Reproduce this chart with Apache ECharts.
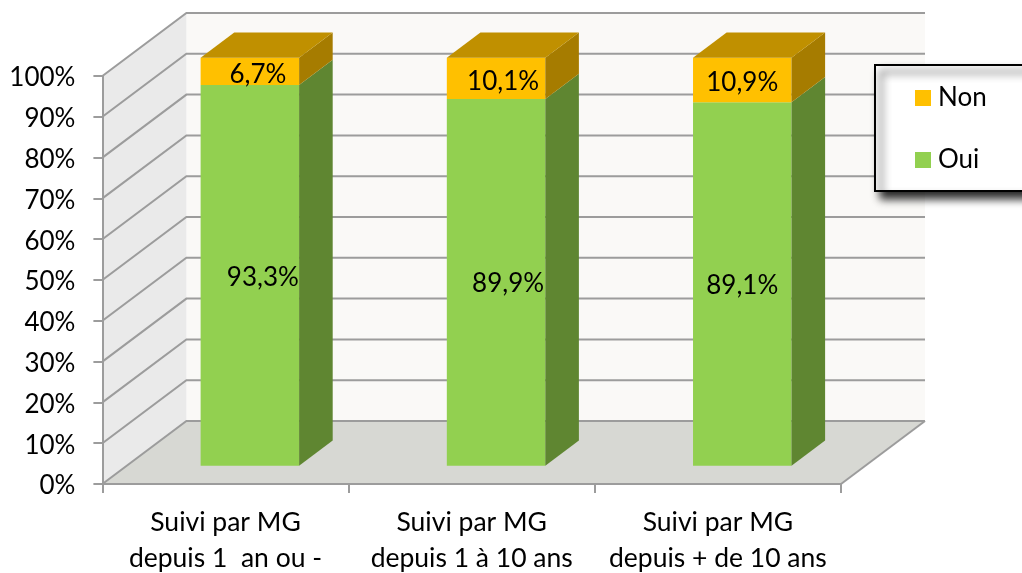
<!DOCTYPE html>
<html>
<head>
<meta charset="utf-8">
<style>
  html, body { margin: 0; padding: 0; background: #fff; }
  #chart { width: 1022px; height: 573px; }
</style>
</head>
<body>
<div id="chart"></div>
<script src="https://cdn.jsdelivr.net/npm/echarts@6/dist/echarts.min.js"></script>
<script>
  const categories = ['Suivi par MG\ndepuis 1  an ou -', 'Suivi par MG\ndepuis 1 à 10 ans', 'Suivi par MG\ndepuis + de 10 ans']
  const oui = [93.3, 89.9, 89.1]
  const non = [6.7, 10.1, 10.9]
  const yTicks = [0, 10, 20, 30, 40, 50, 60, 70, 80, 90, 100]

  // fausse 3D : décalage du fond du graphique par rapport à l'axe
  const DEPTH_X = 84
  const DEPTH_Y = 63
  const BAR_FRONT = 0.29
  const BAR_BACK = 0.69
  const BAR_WIDTH = 0.4
  const FONT = 'Lato'

  // étiquettes déplacées à la main dans l'original (px)
  const ouiShift = [[13, 2], [12, 1], [0, 2]]
  const nonShift = [[8, 3], [7, 3], [0, 3]]

  function project (p, d) {
    return [p[0] + DEPTH_X * d, p[1] - DEPTH_Y * d]
  }

  function poly (points, fill) {
    return { type: 'polygon', shape: { points: points }, style: { fill: fill } }
  }

  function renderWalls (params) {
    const g = params.coordSys
    const fl = [g.x, g.y + g.height]
    const fr = [g.x + g.width, g.y + g.height]
    const tl = [g.x, g.y]
    const tr = [g.x + g.width, g.y]
    return {
      type: 'group',
      children: [
        poly([project(fl, 1), project(fr, 1), project(tr, 1), project(tl, 1)], '#faf9f7'),
        poly([fl, project(fl, 1), project(tl, 1), tl], '#eaeaea'),
        poly([fl, fr, project(fr, 1), project(fl, 1)], '#d7d8d3')
      ]
    }
  }

  function renderGrid (params, api) {
    const g = params.coordSys
    const y = api.coord([0, api.value(1)])[1]
    const a = [g.x, y]
    const b = project(a, 1)
    const c = project([g.x + g.width, y], 1)
    return {
      type: 'polyline',
      shape: { points: [a, b, c] },
      style: { stroke: '#9c9c9c', lineWidth: 2, fill: null }
    }
  }

  function renderFloorEdge (params) {
    const g = params.coordSys
    const fr = [g.x + g.width, g.y + g.height]
    return {
      type: 'line',
      shape: { x1: fr[0], y1: fr[1], x2: fr[0] + DEPTH_X, y2: fr[1] - DEPTH_Y },
      style: { stroke: '#9c9c9c', lineWidth: 2 }
    }
  }

  function barRenderer (front, side, top, shifts) {
    return function (params, api) {
      const i = params.dataIndex
      const center = api.coord([api.value(0), 0])[0]
      const half = api.size([1, 0])[0] * BAR_WIDTH / 2
      const y0 = api.coord([0, api.value(1)])[1]
      const y1 = api.coord([0, api.value(2)])[1]
      const at = function (x, y, d) { return project([center + x, y], d) }
      const children = [
        poly([at(-half, y0, BAR_FRONT), at(half, y0, BAR_FRONT), at(half, y1, BAR_FRONT), at(-half, y1, BAR_FRONT)], front),
        poly([at(half, y0, BAR_FRONT), at(half, y0, BAR_BACK), at(half, y1, BAR_BACK), at(half, y1, BAR_FRONT)], side)
      ]
      if (top) {
        children.push(poly([at(-half, y1, BAR_FRONT), at(half, y1, BAR_FRONT), at(half, y1, BAR_BACK), at(-half, y1, BAR_BACK)], top))
      }
      const mid = at(0, (y0 + y1) / 2, BAR_FRONT)
      children.push({
        type: 'text',
        z2: 10,
        style: {
          x: mid[0] + shifts[i][0],
          y: mid[1] + shifts[i][1],
          text: (api.value(2) - api.value(1)).toFixed(1).replace('.', ',') + '%',
          fill: '#000',
          font: '26px ' + FONT,
          align: 'center',
          verticalAlign: 'middle'
        }
      })
      return { type: 'group', children: children }
    }
  }

  const chart = echarts.init(document.getElementById('chart'))

  chart.setOption({
    animation: false,
    grid: { left: 102.4, right: 181, top: 76, bottom: 89, outerBoundsMode: 'none' },
    legend: {
      data: ['Non', 'Oui'],
      orient: 'vertical',
      left: 875,
      top: 65,
      padding: [20, 100, 18, 40],
      itemWidth: 16,
      itemHeight: 16,
      itemGap: 36,
      icon: 'rect',
      backgroundColor: '#fff',
      borderColor: '#000',
      borderWidth: 2,
      shadowColor: 'rgba(0,0,0,0.85)',
      shadowBlur: 8,
      shadowOffsetX: 6,
      shadowOffsetY: 7,
      textStyle: { color: '#000', fontSize: 26, fontFamily: FONT, padding: [0, 0, 0, 2] }
    },
    xAxis: {
      type: 'category',
      z: 6,
      data: categories,
      axisLine: { lineStyle: { color: '#9c9c9c', width: 2 } },
      axisTick: { show: true, length: 9, alignWithLabel: false, lineStyle: { color: '#9c9c9c', width: 2 } },
      axisLabel: { color: '#000', fontSize: 26.5, fontFamily: FONT, lineHeight: 36, margin: 20, interval: 0 },
      splitLine: { show: false }
    },
    yAxis: {
      type: 'value',
      z: 6,
      min: 0,
      max: 100,
      interval: 10,
      axisLine: { show: true, lineStyle: { color: '#9c9c9c', width: 2 } },
      axisTick: { show: true, length: 9, lineStyle: { color: '#9c9c9c', width: 2 } },
      // texte légèrement sous la graduation, comme dans l'original
      axisLabel: { color: '#000', fontSize: 26, fontFamily: FONT, margin: 27, verticalAlign: 'top', lineHeight: 4, formatter: '{value}%' },
      splitLine: { show: false }
    },
    series: [
      { type: 'custom', silent: true, z: 1, renderItem: renderWalls, data: [[0, 0]] },
      { type: 'custom', silent: true, z: 2, renderItem: renderGrid, data: yTicks.map(function (t) { return [0, t] }) },
      { type: 'custom', silent: true, z: 2, renderItem: renderFloorEdge, data: [[0, 0]] },
      {
        name: 'Oui',
        type: 'custom',
        z: 3,
        itemStyle: { color: '#92d050' },
        encode: { x: 0, y: [1, 2] },
        renderItem: barRenderer('#92d050', '#5f8631', null, ouiShift),
        data: oui.map(function (v, i) { return [i, 0, v] })
      },
      {
        name: 'Non',
        type: 'custom',
        z: 4,
        itemStyle: { color: '#ffc000' },
        encode: { x: 0, y: [1, 2] },
        renderItem: barRenderer('#ffc000', '#a67c00', '#c09000', nonShift),
        data: non.map(function (v, i) { return [i, oui[i], oui[i] + v] })
      }
    ]
  })
</script>
</body>
</html>
